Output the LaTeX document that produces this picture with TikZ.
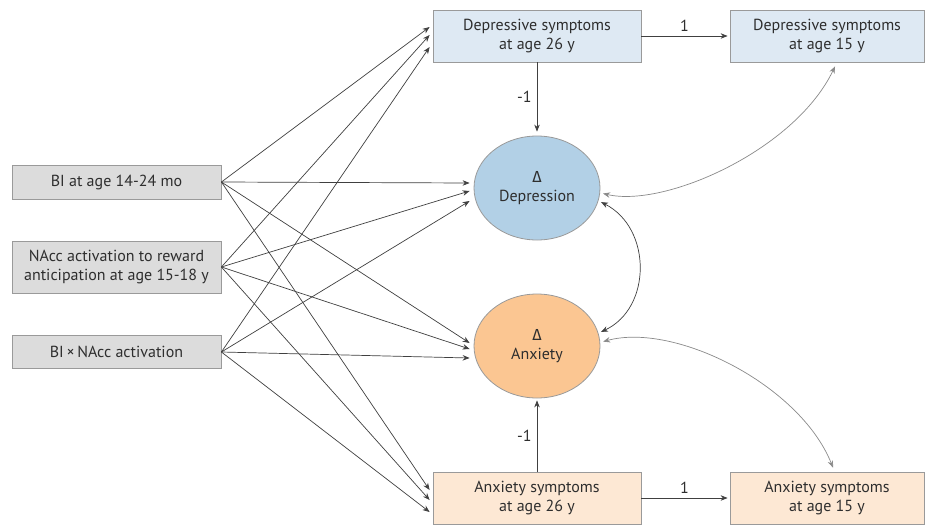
\documentclass[tikz,border=0pt]{standalone}
\usepackage{fontspec}
\setmainfont{PT Sans}
\newfontfamily\grk{Fira Sans}
\usetikzlibrary{arrows.meta,calc,shapes.geometric}
\definecolor{txt}{HTML}{2E2E2E}
\definecolor{edge}{HTML}{9A9A9A}
\definecolor{lgray}{HTML}{DCDCDC}
\definecolor{lblue}{HTML}{DEE9F3}
\definecolor{lorange}{HTML}{FDE8D4}
\definecolor{dblue}{HTML}{B2D0E6}
\definecolor{dorange}{HTML}{FBC692}
\definecolor{arrc}{HTML}{404040}
\definecolor{garrc}{HTML}{8A8A8A}
\tikzset{
  boxbase/.style={draw=edge, line width=0.8pt, inner sep=0pt, align=center,
    text=txt, font=\fontsize{16}{19}\selectfont},
  lbox/.style={boxbase, fill=lgray, minimum width=209pt},
  dbox/.style={boxbase, fill=lblue, minimum height=52pt},
  abox/.style={boxbase, fill=lorange, minimum height=52pt},
  ell/.style={boxbase, ellipse, minimum width=126pt, minimum height=104pt},
  arr/.style={draw=arrc, line width=0.7pt, -{Stealth[length=7pt,width=5.5pt]}},
  darr/.style={draw=arrc, line width=0.7pt, {Stealth[length=7pt,width=5.5pt]}-{Stealth[length=7pt,width=5.5pt]}},
  garr/.style={draw=garrc, line width=0.7pt, {Stealth[length=7pt,width=5.5pt]}-{Stealth[length=7pt,width=5.5pt]}},
  lab/.style={text=txt, font=\fontsize{16}{19}\selectfont, inner sep=2pt}
}
\begin{document}
\begin{tikzpicture}[x=1pt,y=-1pt]
\useasboundingbox (0,0) rectangle (925,525);
\fill[white] (0,0) rectangle (925,525);

\node[lbox, minimum height=34pt] (bi) at (116.5,182) {BI at age 14-24 mo};
\node[lbox, minimum height=52pt] (nacc) at (116.5,267) {NAcc activation to reward\\anticipation at age 15-18 y};
\node[lbox, minimum height=33pt] (bix) at (116.5,352) {BI\,×\,NAcc activation};

\node[dbox, minimum width=208pt] (dep26) at (537,36) {Depressive symptoms\\at age 26 y};
\node[dbox, minimum width=194pt] (dep15) at (827,36) {Depressive symptoms\\at age 15 y};
\node[abox, minimum width=208pt] (anx26) at (537,498) {Anxiety symptoms\\at age 26 y};
\node[abox, minimum width=194pt] (anx15) at (827,498) {Anxiety symptoms\\at age 15 y};

\node[ell, fill=dblue] (dep) at (537,188) {{\grk Δ}\\Depression};
\node[ell, fill=dorange] (anx) at (537,346) {{\grk Δ}\\Anxiety};

% to Dep26
\draw[arr] (bi.east) -- ([xshift=-3pt,yshift=9pt]dep26.west);
\draw[arr] (nacc.east) -- ([xshift=-3pt,yshift=1pt]dep26.west);
\draw[arr] (bix.east) -- ([xshift=-3pt,yshift=-11pt]dep26.west);
% to Depression
\draw[arr] (bi.east) -- ([xshift=-4pt,yshift=5pt]dep.west);
\draw[arr] (nacc.east) -- ([xshift=-4pt,yshift=-3pt]dep.west);
\draw[arr] (bix.east) -- ([xshift=-4pt,yshift=-13pt]dep.west);
% to Anxiety
\draw[arr] (bi.east) -- ([xshift=-4pt,yshift=3pt]anx.west);
\draw[arr] (nacc.east) -- ([xshift=-4pt,yshift=-3pt]anx.west);
\draw[arr] (bix.east) -- ([xshift=-4pt,yshift=-12pt]anx.west);
% to Anx26
\draw[arr] (bi.east) -- ([xshift=-3pt,yshift=8pt]anx26.west);
\draw[arr] (nacc.east) -- ([xshift=-3pt,yshift=-2pt]anx26.west);
\draw[arr] (bix.east) -- ([xshift=-3pt,yshift=-14pt]anx26.west);

% fixed paths
\draw[arr] (dep26.east) -- node[lab, above=2pt]{1} ([xshift=-2pt]dep15.west);
\draw[arr] (anx26.east) -- node[lab, above=2pt]{1} ([xshift=-2pt]anx15.west);
\draw[arr] (dep26.south) -- node[lab, left=3pt]{-1} ([yshift=4pt]dep.north);
\draw[arr] (anx26.north) -- node[lab, left=3pt]{-1} ([yshift=-2pt]anx.south);

% covariances
\draw[darr] ([xshift=3pt]dep.-13) .. controls (652,228) and (652,308) .. ([xshift=3pt]anx.13);
\draw[garr] ([xshift=3pt]dep.-5) .. controls (665,208) and (795,150) .. ([xshift=8pt,yshift=-4pt]dep15.south);
\draw[garr] ([xshift=3pt]anx.4) .. controls (675,322) and (800,385) .. ([xshift=6pt,yshift=4pt]anx15.north);
\end{tikzpicture}
\end{document}
